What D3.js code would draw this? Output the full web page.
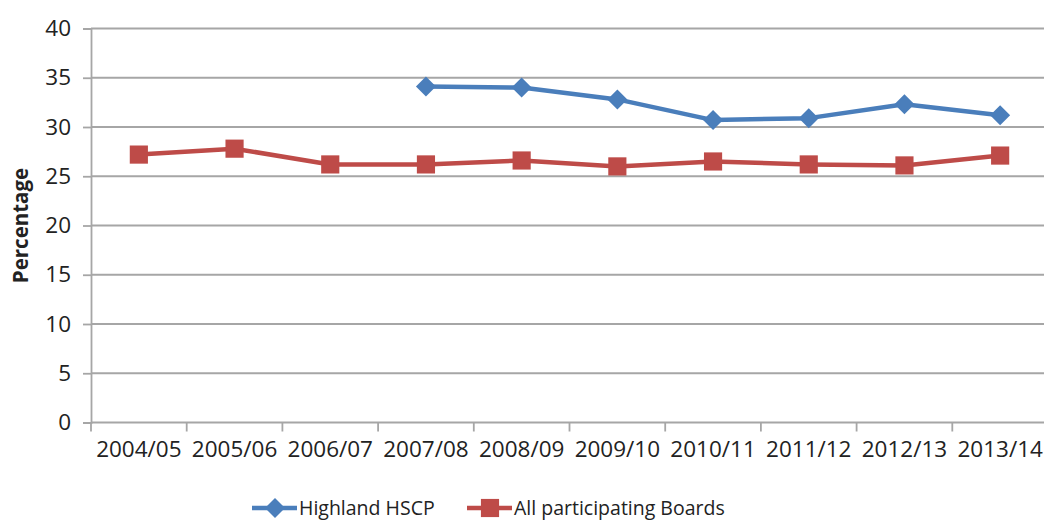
<!DOCTYPE html>
<html>
<head>
<meta charset="utf-8">
<script src="https://cdn.jsdelivr.net/npm/d3@7"></script>
<style>
  html, body { margin: 0; padding: 0; background: #fff; }
  svg { display: block; }
  text { font-family: "Open Sans", sans-serif; fill: #222; }
</style>
</head>
<body>
<svg id="chart" width="1044" height="521"></svg>
<script>
// Financial years on the x axis
const years = ["2004/05", "2005/06", "2006/07", "2007/08", "2008/09",
               "2009/10", "2010/11", "2011/12", "2012/13", "2013/14"];
// Highland HSCP (no data before 2007/08)
const highland = [null, null, null, 34.1, 34.0, 32.8, 30.7, 30.9, 32.3, 31.2];
// All participating Boards
const allBoards = [27.2, 27.8, 26.2, 26.2, 26.6, 26.0, 26.5, 26.2, 26.1, 27.1];
const yTicks = [0, 5, 10, 15, 20, 25, 30, 35, 40];
const seriesNames = ["Highland HSCP", "All participating Boards"];
const colors = ["#4A7EBB", "#BE4B48"];

const svg = d3.select("#chart");
const plotLeft = 91, plotRight = 1048, plotTop = 28.5, plotBottom = 422.5;

const x = d3.scaleBand().domain(years).range([plotLeft, plotRight]);
const y = d3.scaleLinear().domain([0, 40]).range([plotBottom, plotTop]);

// Horizontal gridlines
svg.append("g").selectAll("line").data(yTicks.filter(t => t > 0)).join("line")
  .attr("x1", plotLeft).attr("x2", 1044)
  .attr("y1", d => y(d)).attr("y2", d => y(d))
  .attr("stroke", "#a6a6a6").attr("stroke-width", 1.8);

// Y axis
const yAxis = svg.append("g").attr("transform", `translate(${plotLeft},0)`)
  .call(d3.axisLeft(y).tickValues(yTicks).tickSize(8).tickPadding(12));
yAxis.select(".domain").attr("stroke", "#a6a6a6").attr("stroke-width", 1.8);
yAxis.selectAll(".tick line").attr("stroke", "#a6a6a6").attr("stroke-width", 1.8);
yAxis.selectAll(".tick text").style("font-size", "22.5px").attr("fill", "#222");

// X axis with tick marks at band boundaries
const xAxis = svg.append("g").attr("transform", `translate(0,${plotBottom})`)
  .call(d3.axisBottom(x).tickSize(0).tickPadding(19));
xAxis.select(".domain").attr("stroke", "#a6a6a6").attr("stroke-width", 1.8)
  .attr("d", `M${plotLeft},0H1044`);
xAxis.selectAll(".tick text").style("font-size", "22.5px").attr("fill", "#222");
svg.append("g").selectAll("line").data(years).join("line")
  .attr("x1", d => x(d)).attr("x2", d => x(d))
  .attr("y1", plotBottom).attr("y2", plotBottom + 9)
  .attr("stroke", "#a6a6a6").attr("stroke-width", 1.8);

// Y axis title
svg.append("text")
  .attr("transform", `translate(28,${(plotTop + plotBottom) / 2}) rotate(-90)`)
  .attr("text-anchor", "middle")
  .style("font-size", "20.5px").style("font-weight", "bold")
  .text("Percentage");

const cx = d => x(d) + x.bandwidth() / 2;
const line = d3.line()
  .defined(d => d.v != null)
  .x(d => cx(d.year)).y(d => y(d.v));

const diamond = d3.symbol().type(d3.symbolSquare).size(200);
const square = d3.symbol().type(d3.symbolSquare).size(330);

function drawSeries(values, color, marker, rotate) {
  const pts = years.map((year, i) => ({ year, v: values[i] }));
  svg.append("path").datum(pts)
    .attr("d", line).attr("fill", "none")
    .attr("stroke", color).attr("stroke-width", 4.5)
    .attr("stroke-linejoin", "round");
  svg.append("g").selectAll("path").data(pts.filter(d => d.v != null)).join("path")
    .attr("d", marker)
    .attr("transform", d => `translate(${cx(d.year)},${y(d.v)}) rotate(${rotate})`)
    .attr("fill", color);
}

drawSeries(highland, colors[0], diamond, 45);
drawSeries(allBoards, colors[1], square, 0);

// Legend
const legendY = 508;
const legend = [
  { name: seriesNames[0], color: colors[0], x0: 252, marker: diamond, rot: 45 },
  { name: seriesNames[1], color: colors[1], x0: 467, marker: square, rot: 0 }
];
legend.forEach(l => {
  svg.append("line").attr("x1", l.x0).attr("x2", l.x0 + 45)
    .attr("y1", legendY).attr("y2", legendY)
    .attr("stroke", l.color).attr("stroke-width", 4.5);
  svg.append("path").attr("d", l.marker)
    .attr("transform", `translate(${l.x0 + 23},${legendY}) rotate(${l.rot})`)
    .attr("fill", l.color);
  svg.append("text").attr("x", l.x0 + 47).attr("y", legendY + 7)
    .style("font-size", "19.5px").text(l.name);
});
</script>
</body>
</html>
